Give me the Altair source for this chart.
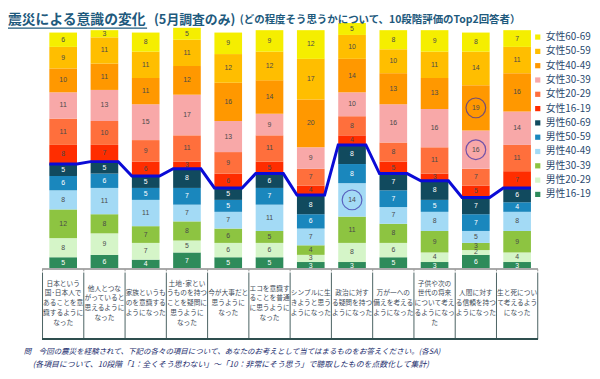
import altair as alt
import pandas as pd

categories = [
    "日本という\n国･日本人で\nあることを意\n識するように\nなった",
    "他人とつな\nがっていると\n思えるように\nなった",
    "家族というも\nのを意識する\nようになった",
    "土地･家とい\nうものを持つ\nことを疑問に\n思うように\nなった",
    "今が大事だと\n思うように\nなった",
    "エコを意識す\nることを普通\nに思うように\nなった",
    "シンプルに生\nきようと思う\nようになった",
    "政治に対す\nる疑問を持つ\nようになった",
    "万が一への\n備えを考える\nようになった",
    "子供や次の\n世代の将来\nについて考え\nるようになっ\nた",
    "人間に対す\nる信頼を持つ\nようになった",
    "生と死につい\nて考えるよう\nになった",
]

# bottom -> top
groups = ["男性16-19", "男性20-29", "男性30-39", "男性40-49", "男性50-59", "男性60-69",
          "女性16-19", "女性20-29", "女性30-39", "女性40-49", "女性50-59", "女性60-69"]

m16 = [5, 6, 4, 7, 5, 5, 3, 3, 5, 3, 6, 3]
m20 = [8, 9, 7, 5, 6, 6, 3, 8, 6, 4, 2, 4]
m30 = [12, 8, 7, 8, 6, 5, 4, 11, 8, 9, 3, 9]
m40 = [8, 11, 11, 7, 7, 11, 7, 14, 7, 8, 5, 8]
m50 = [6, 6, 5, 7, 5, 7, 6, 8, 7, 5, 7, 4]
m60 = [5, 5, 5, 8, 5, 6, 8, 8, 7, 8, 7, 6]
f16 = [8, 7, 6, 3, 6, 5, 4, 4, 5, 3, 5, 7]
f20 = [11, 10, 9, 11, 9, 11, 7, 8, 8, 11, 7, 11]
f30 = [11, 13, 15, 17, 13, 9, 9, 10, 16, 16, 16, 14]
f40 = [10, 11, 11, 12, 16, 14, 20, 14, 13, 13, 19, 16]
f50 = [9, 11, 11, 11, 12, 12, 17, 10, 10, 11, 14, 11]
f60 = [6, 3, 8, 5, 9, 9, 12, 5, 8, 9, 8, 7]
series = [m16, m20, m30, m40, m50, m60, f16, f20, f30, f40, f50, f60]

colors = ["#2e8b5a", "#d5f5c8", "#8dc441", "#a3daf5", "#1a87bd", "#114a5e",
          "#ff2d00", "#ff6f3c", "#f8a8a8", "#ff9800", "#ffbe00", "#f5ee00"]

white_text_groups = ["男性16-19", "男性50-59", "男性60-69"]
circled = [(7, "男性40-49"), (10, "女性40-49"), (10, "女性30-39")]

title1 = "震災による意識の変化"
title2 = "(5月調査のみ)"
title3 = "(どの程度そう思うかについて、10段階評価のTop2回答者）"
note1 = "問　今回の震災を経験されて、下記の各々の項目について、あなたのお考えとして当てはまるものをお答えください。(各SA)"
note2 = "(各項目について、10段階「1：全くそう思わない」～「10：非常にそう思う」で聴取したものを点数化して集計)"

JP = "Noto Sans CJK JP"
TITLE_C = "#1e5a7d"

rows = []
for gi, (g, vals) in enumerate(zip(groups, series)):
    for i, v in enumerate(vals):
        rows.append({"idx": i, "group": g, "ord": gi, "value": v,
                     "tcol": "#ffffff" if g in white_text_groups else "#4a4a4a",
                     "circ": (i, g) in circled})
df = pd.DataFrame(rows)

male_tot = [sum(s[i] for s in series[:6]) for i in range(len(categories))]
line_rows = []
for i, t in enumerate(male_tot):
    line_rows.append({"x": i - 0.335, "y": t, "o": 2 * i})
    line_rows.append({"x": i + 0.335, "y": t, "o": 2 * i + 1})
line_df = pd.DataFrame(line_rows)

cat_df = pd.DataFrame({"idx": list(range(len(categories))), "label": categories})
bnd_df = pd.DataFrame({"b": [k - 0.5 for k in range(len(categories) + 1)]})

xs = alt.Scale(domain=[-0.5, 11.5], nice=False, zero=False)
ys = alt.Scale(domain=[-30, 100], nice=False, zero=False)

base = alt.Chart(df).transform_stack(
    stack="value", groupby=["idx"], sort=[alt.SortField("ord", order="ascending")], as_=["y0", "y1"]
).transform_calculate(
    mid="(datum.y0 + datum.y1) / 2", xl="datum.idx - 0.335", xr="datum.idx + 0.335"
)

legend_order = list(reversed(groups))
legend_colors = list(reversed(colors))

bars = base.mark_bar(strokeWidth=0).encode(
    x=alt.X("xl:Q", scale=xs, axis=None),
    x2="xr:Q",
    y=alt.Y("y0:Q", scale=ys, axis=None),
    y2="y1:Q",
    color=alt.Color("group:N", scale=alt.Scale(domain=legend_order, range=legend_colors),
                    legend=alt.Legend(title=None, orient="none", legendX=497, legendY=2,
                                      symbolType="square", symbolSize=28, labelFontSize=10,
                                      labelFont=JP, labelColor="#2b4a6f", rowPadding=4.5,
                                      labelOffset=3, padding=0, symbolStrokeWidth=0)),
)

seg_text = base.mark_text(fontSize=7, font="Liberation Sans", baseline="middle").encode(
    x=alt.X("idx:Q", scale=xs), y=alt.Y("mid:Q", scale=ys),
    text="value:Q", color=alt.Color("tcol:N", scale=None),
)

circles = base.transform_filter("datum.circ").mark_point(
    shape="circle", size=400, filled=False, stroke="#3a2fa8", strokeWidth=1.2
).encode(x=alt.X("idx:Q", scale=xs), y=alt.Y("mid:Q", scale=ys))

line = alt.Chart(line_df).mark_line(color="#0b0bd6", strokeWidth=3).encode(
    x=alt.X("x:Q", scale=xs), y=alt.Y("y:Q", scale=ys), order="o:Q"
)

baseline = alt.Chart(bnd_df).mark_rule(color="#aaaaaa", strokeWidth=1).encode(
    x=alt.datum(-0.5, scale=xs), x2=alt.datum(11.5), y=alt.datum(0, scale=ys)
)
ticks = alt.Chart(bnd_df).mark_rule(color="#999999", strokeWidth=1).encode(
    x=alt.X("b:Q", scale=xs), y=alt.datum(0, scale=ys), y2=alt.datum(-0.9)
)
vlines = alt.Chart(bnd_df).mark_rule(color="#4a6262", strokeWidth=1).encode(
    x=alt.X("b:Q", scale=xs), y=alt.datum(-1.4, scale=ys), y2=alt.datum(-29.3)
)
bline = alt.Chart(bnd_df).mark_rule(color="#2f4f4f", strokeWidth=1.5).encode(
    x=alt.datum(-0.5, scale=xs), x2=alt.datum(11.5), y=alt.datum(-29.3, scale=ys)
)

# category labels: vertically centred blocks inside the table cells
cat_text = alt.Chart(cat_df).transform_calculate(
    nl="length(split(datum.label, '\\n'))"
).transform_calculate(
    ly="-14.3 + (datum.nl - 1) * 0.5 * 10 / 2.423"
).mark_text(
    font=JP, fontSize=6.8, lineBreak="\n", lineHeight=10, baseline="middle", color="#3c4a57"
).encode(x=alt.X("idx:Q", scale=xs), y=alt.Y("ly:Q", scale=ys), text="label:N")

def txt(s, x, y, size, weight="normal", style="normal", color=TITLE_C):
    return alt.Chart(pd.DataFrame({"t": [s]})).mark_text(
        font=JP, fontSize=size, fontWeight=weight, fontStyle=style, align="left",
        baseline="middle", color=color
    ).encode(x=alt.value(x), y=alt.value(y), text="t:N")

t1 = txt(title1, -35, -10, 14, "bold")
t2 = txt(title2, 113, -10, 13, "bold")
t3 = txt(title3, 200, -10, 10.6, "bold")
uline = alt.Chart(pd.DataFrame({"t": [0]})).mark_rule(color=TITLE_C, strokeWidth=1.3).encode(
    x=alt.value(-35), x2=alt.value(106), y=alt.value(-2)
)
n1 = txt(note1, -19, 326, 7.6, "normal", "italic", "#1c2e6e")
n2 = txt(note2, -10, 339, 8, "normal", "italic", "#1c2e6e")

chart = alt.layer(
    bars, seg_text, line, circles, baseline, ticks, vlines, bline, cat_text,
    t1, t2, t3, uline, n1, n2
).properties(
    width=502, height=315,
    padding={"left": 35, "top": 20, "right": 55, "bottom": 26},
    autosize=alt.AutoSizeParams(type="none"),
).configure_view(stroke=None)

chart.save("out.html", embed_options={"renderer": "svg", "actions": False})
